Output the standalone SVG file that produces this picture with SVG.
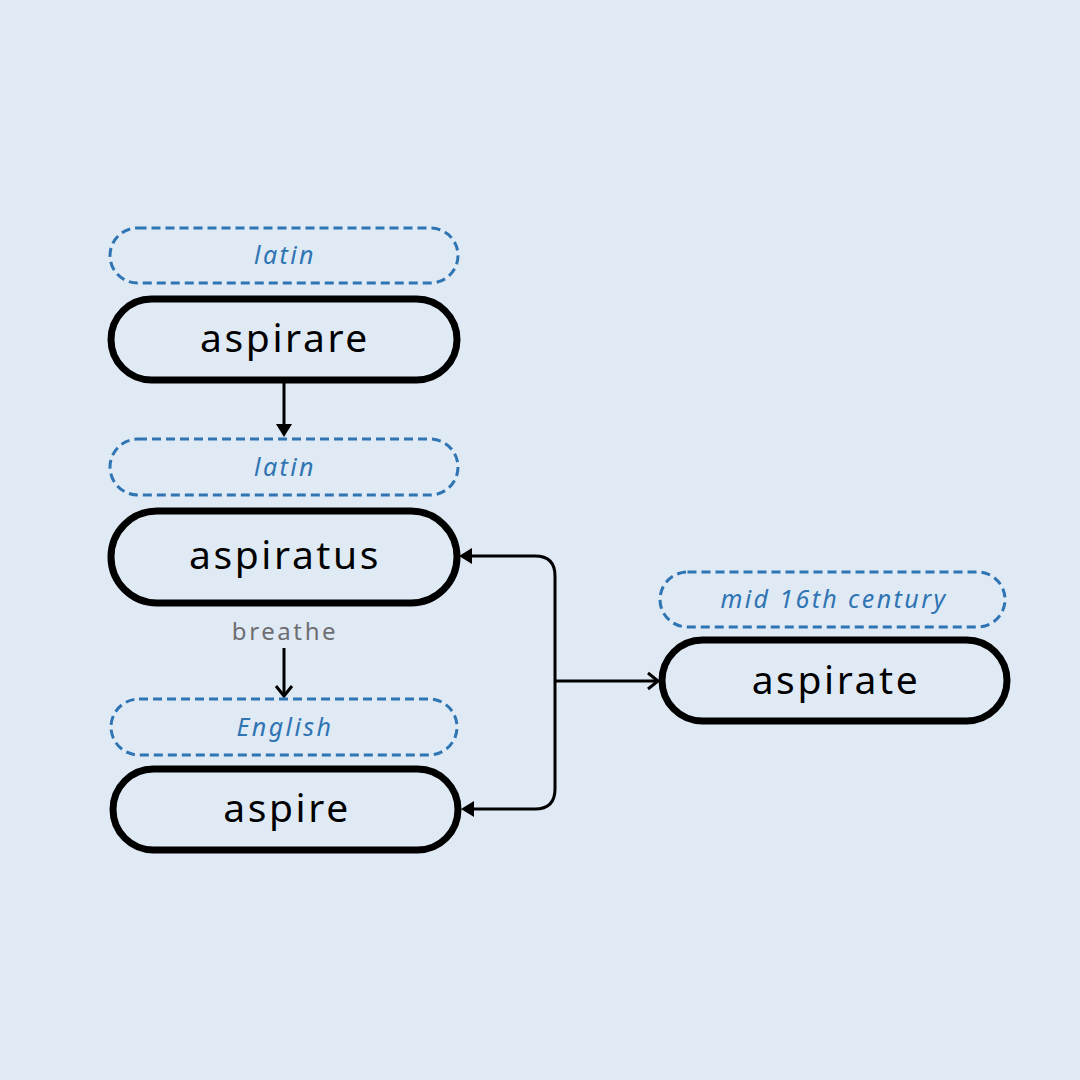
<svg xmlns="http://www.w3.org/2000/svg" width="1080" height="1080" viewBox="0 0 1080 1080">
<style>
.tag{fill:none;stroke:#2F74B3;stroke-width:3;stroke-dasharray:9 5}
.tagt{font-family:"Noto Sans",sans-serif;font-style:italic;font-size:25px;fill:#2F74B3;text-anchor:middle;letter-spacing:2.4px}
.node{fill:#E0EAF4;stroke:#000;stroke-width:7}
.nodet{font-family:"Noto Sans",sans-serif;font-size:39px;fill:#000;text-anchor:middle;letter-spacing:2.6px}
.edge{fill:none;stroke:#000;stroke-width:3}
.lbl{font-family:"Noto Sans",sans-serif;font-size:24px;fill:#6E6E72;text-anchor:middle;letter-spacing:2.6px}
</style>
<rect width="1080" height="1080" fill="#E0EAF4"/>
<g id="connectors">
<path class="edge" d="M284,382 L284,426"/>
<path d="M276,424 L292,424 L284,437 Z" fill="#000"/>
<path class="edge" d="M284,648 L284,696"/>
<path class="edge" d="M276,686 L284,696 L292,686"/>
<path class="edge" d="M555,681 L555,576 Q555,556 535,556 L470,556"/>
<path d="M472,548 L459,556 L472,564 Z" fill="#000"/>
<path class="edge" d="M555,681 L555,789 Q555,809 535,809 L472,809"/>
<path d="M474,801 L461,809 L474,817 Z" fill="#000"/>
<path class="edge" d="M555,681 L657,681"/>
<path class="edge" d="M648,673 L658,681 L648,689"/>
</g>
<g id="tag-aspirare">
<rect class="tag" x="110" y="228" width="348" height="55" rx="27.5"/>
<text class="tagt" x="285" y="264">latin</text>
</g>
<g id="node-aspirare">
<rect class="node" x="111" y="299" width="346" height="81" rx="40.5"/>
<text class="nodet" x="285" y="352">aspirare</text>
</g>
<g id="tag-aspiratus">
<rect class="tag" x="110" y="439" width="348" height="56" rx="28"/>
<text class="tagt" x="285" y="476">latin</text>
</g>
<g id="node-aspiratus">
<rect class="node" x="111" y="511" width="346" height="92" rx="46"/>
<text class="nodet" x="285" y="569">aspiratus</text>
</g>
<g id="label-breathe">
<text class="lbl" x="285" y="640">breathe</text>
</g>
<g id="tag-aspire">
<rect class="tag" x="111" y="699" width="346" height="56" rx="28"/>
<text class="tagt" x="285" y="736">English</text>
</g>
<g id="node-aspire">
<rect class="node" x="113" y="769" width="345" height="81" rx="40.5"/>
<text class="nodet" x="287" y="822">aspire</text>
</g>
<g id="tag-aspirate">
<rect class="tag" x="660" y="572" width="345" height="55" rx="27.5"/>
<text class="tagt" x="834" y="608">mid 16th century</text>
</g>
<g id="node-aspirate">
<rect class="node" x="662" y="640" width="345" height="81" rx="40.5"/>
<text class="nodet" x="836" y="694">aspirate</text>
</g>
</svg>
